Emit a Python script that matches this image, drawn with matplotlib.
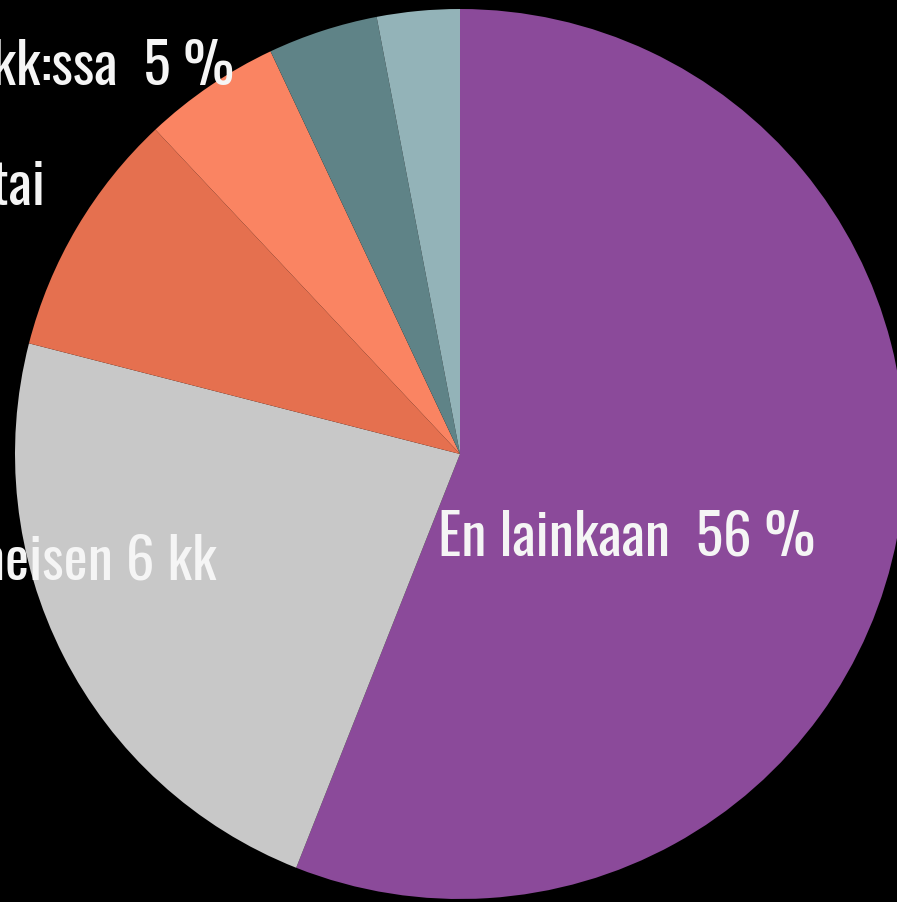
import matplotlib
matplotlib.use("Agg")
import matplotlib.pyplot as plt

# shares (percent), clockwise from 12 o'clock
labels = ["En lainkaan", "Kerran viimeisen 6 kk", "Harvemmin tai", "Viimeisen 12 kk:ssa",
          "Muu", "Ei vastausta"]
values = [56, 23, 9, 5, 4, 3]
colors = ["#8b4a9a", "#c8c8c8", "#e5704f", "#fa8462", "#5f8387", "#93b3b8"]

W, H = 897, 903

fig = plt.figure(figsize=(W / 100, H / 100), dpi=100, facecolor="black")
ax = fig.add_axes([0, 0, 1, 1])
ax.set_facecolor("black")

# big pie, partly outside the frame like the reference crop
cx, cy, r = 460, H - 455, 445
ax.pie(values, colors=colors, startangle=90, counterclock=False,
       center=(cx, cy), radius=r, wedgeprops=dict(linewidth=0))
ax.set_xlim(0, W)
ax.set_ylim(0, H)
ax.set_aspect("equal")
ax.axis("off")

txt = dict(color="#f5f5f5", family=["Oswald", "DejaVu Sans"], fontsize=41, va="center")
ax.text(438, H - 537, "En lainkaan  56 %", ha="left", **txt)
ax.text(216, H - 562, "Kerran viimeisen 6 kk", ha="right", **txt)
ax.text(45, H - 187, "Harvemmin tai", ha="right", **txt)
ax.text(234, H - 67, "Viimeisen 12 kk:ssa  5 %", ha="right", **txt)

fig.savefig("out.png", dpi=100, facecolor="black")
